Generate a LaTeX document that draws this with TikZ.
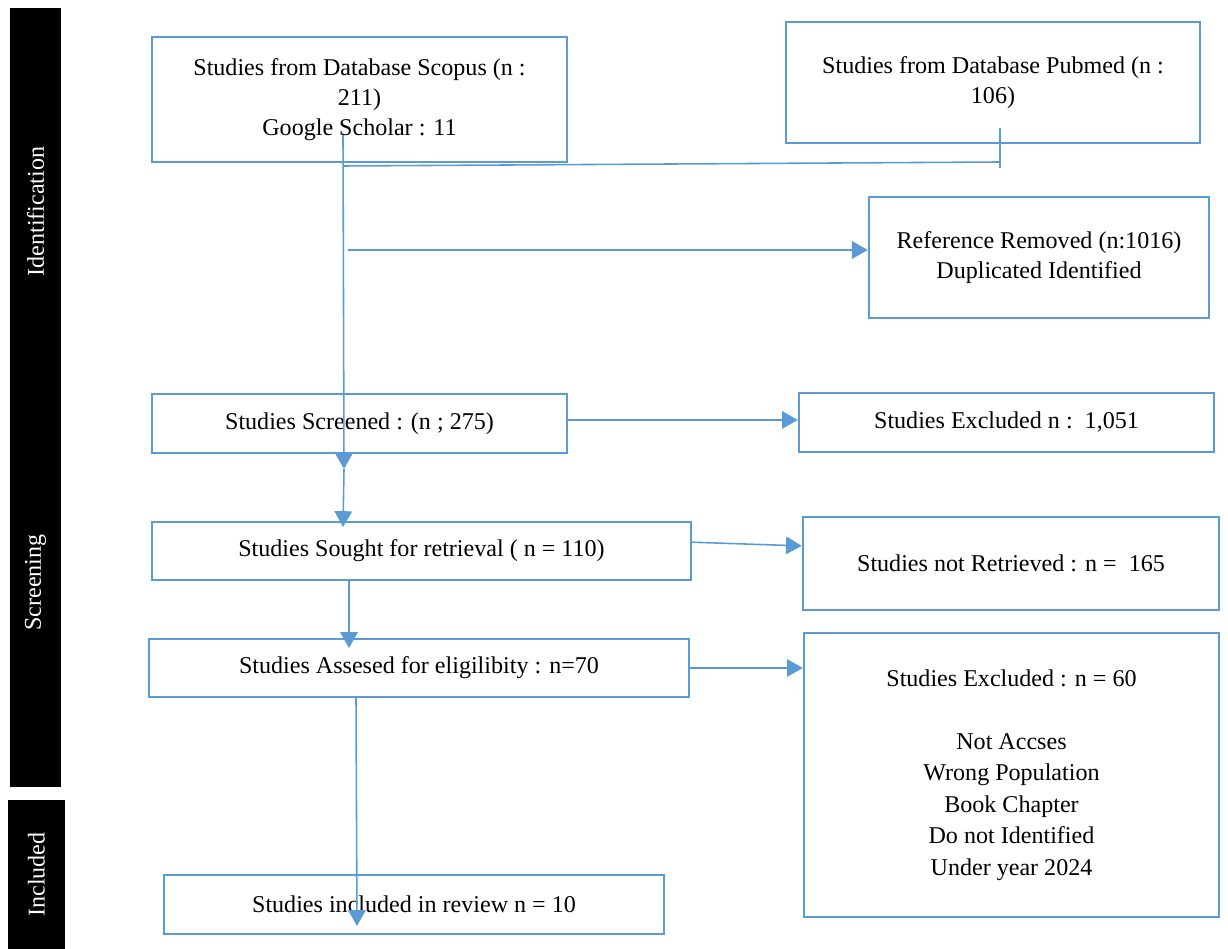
\documentclass[tikz,border=0pt]{standalone}
\usepackage{fontspec}
\setmainfont{Liberation Serif}
\usetikzlibrary{arrows.meta,positioning,calc}
\definecolor{flowblue}{RGB}{91,155,213}

\begin{document}
\begin{tikzpicture}[
                x=0.02cm, y=-0.02cm,
                font=\fontsize{13.7}{17}\selectfont,
                box/.style={rectangle, draw=flowblue, line width=1.4pt, align=center, inner sep=2pt},
                phasebar/.style={rectangle, fill=black, text=white, inner sep=0pt, rotate=90},
                link/.style={draw=flowblue, line width=0.9pt},
                arrow/.style={link, -{Triangle[length=9pt, width=10pt]}},
            ]
            \useasboundingbox (0,0) rectangle (1228,949);

            % ── Phase bars ────────────────────────────────────────
            \node[phasebar, minimum width=8.14cm, minimum height=1.02cm] (idbar)   at (35.5,211.5) {Identification};
            \node[phasebar, minimum width=8.18cm, minimum height=1.02cm] (scrbar)  at (35.5,582.5) {Screening};
            \node[phasebar, minimum width=2.98cm, minimum height=1.14cm] (incbar)  at (36.5,874.5) {Included};

            % ── Identification ────────────────────────────────────
            \node[box, minimum width=8.3cm,  minimum height=2.5cm]  (scopus) at (359.5,99.5)
                {Studies from Database Scopus (n :\\211)\\Google Scholar : 11};
            \node[box, minimum width=8.28cm, minimum height=2.42cm] (pubmed) at (993,82.5)
                {Studies from Database Pubmed (n :\\106)};
            \node[box, minimum width=6.8cm,  minimum height=2.42cm] (refrem) at (1039,257.5)
                {Reference Removed (n:1016)\\Duplicated Identified};

            % ── Screening ─────────────────────────────────────────
            \node[box, minimum width=8.3cm,  minimum height=1.18cm] (screened) at (359.5,423.5)
                {Studies Screened : (n ; 275)};
            \node[box, minimum width=8.3cm,  minimum height=1.18cm] (excl) at (1006.5,422.5)
                {Studies Excluded n :\ \ 1,051};
            \node[box, minimum width=10.78cm, minimum height=1.16cm] (sought) at (421.5,551)
                {Studies Sought for retrieval ( n = 110)};
            \node[box, minimum width=8.32cm, minimum height=1.86cm] (notret) at (1011,563.5)
                {Studies not Retrieved : n =\ \ 165};
            \node[box, minimum width=10.8cm, minimum height=1.16cm] (assessed) at (419,668)
                {Studies Assesed for eligilibity : n=70};
            \node[box, minimum width=8.3cm,  minimum height=5.68cm, font=\fontsize{13.7}{17.9}\selectfont] (exclsixty) at (1011.5,775)
                {Studies Excluded : n = 60\\[17.9pt]Not Accses\\Wrong Population\\Book Chapter\\Do not Identified\\Under year 2024};

            % ── Included ──────────────────────────────────────────
            \node[box, minimum width=10cm, minimum height=1.18cm] (included) at (414,904.5)
                {Studies included in review n = 10};

            % ── Connectors ────────────────────────────────────────
            \coordinate (trunktop) at (343,135);
            \coordinate (mergeL)   at (343,166);
            \coordinate (mergeR)   at (1000,162);
            \coordinate (pubdrop)  at (1000,128);
            \coordinate (pubtick)  at (1000,168);
            \coordinate (refstart) at (348,250);
            \coordinate (scrtip)   at (344,469);
            \coordinate (soughttip) at (343,527);
            \coordinate (soughtout) at (349,580);
            \coordinate (assesstip) at (349,648);
            \coordinate (assessout) at (356,697);
            \coordinate (inctip)    at (357,926);

            \draw[link]  (pubdrop) -- (pubtick);
            \draw[link]  (mergeL) -- (mergeR);
            \draw[arrow] (trunktop) -- (scrtip);
            \draw[arrow] (refstart) -- (refstart -| refrem.west);
            \draw[arrow] (scrtip) -- (soughttip);
            \draw[arrow] ([yshift=2pt]screened.east) -- ([yshift=2pt]screened.east -| excl.west);
            \draw[arrow] ([yshift=5pt]sought.east) -- ([yshift=10pt]notret.west);
            \draw[arrow] (assessed.east) -- (assessed.east -| exclsixty.west);
            \draw[arrow] (soughtout) -- (assesstip);
            \draw[arrow] (assessout) -- (inctip);
        \end{tikzpicture}
\end{document}
